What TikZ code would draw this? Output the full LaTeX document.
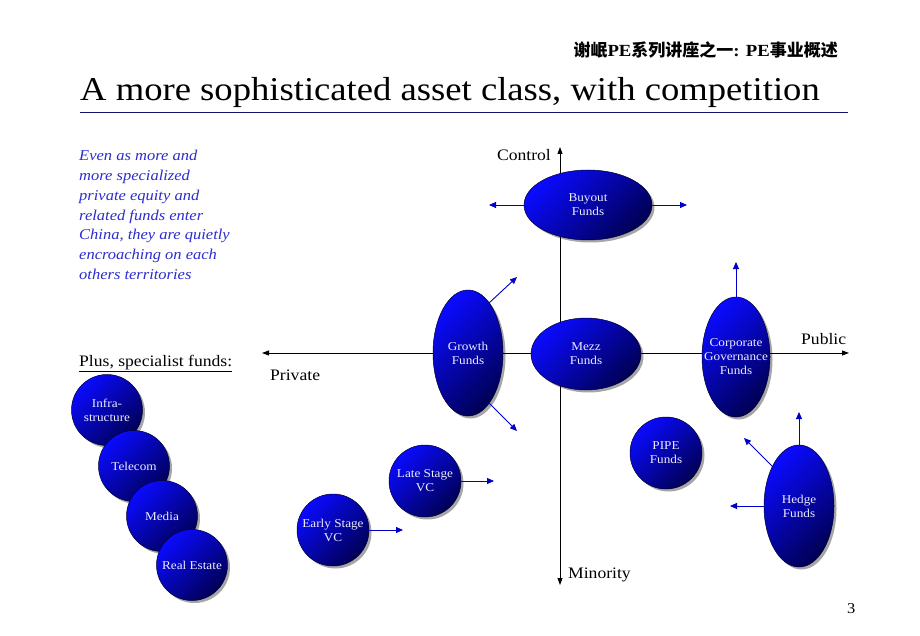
\documentclass[tikz,border=0pt]{standalone}
\usepackage{fontspec}
\setmainfont{Liberation Serif}[FakeStretch=1.1]
\newfontfamily\cjk{Noto Sans CJK SC}
\usetikzlibrary{arrows.meta,shapes.geometric,shadows}
\definecolor{navy}{RGB}{20,20,110}
\definecolor{txtblue}{RGB}{45,45,205}
\definecolor{arrblue}{RGB}{0,0,200}
\definecolor{fundtop}{RGB}{10,10,255}
\definecolor{fundbot}{RGB}{0,0,85}
\definecolor{fundtxt}{RGB}{236,236,255}
\begin{document}
\begin{tikzpicture}[x=1pt,y=-1pt,
  fund/.style={ellipse, inner sep=0pt, draw=fundbot!60!black, line width=0.5pt,
    top color=fundtop, bottom color=fundbot, shading angle=45,
    drop shadow={shadow xshift=2.5pt, shadow yshift=-2.5pt, fill=black, opacity=0.35}},
  lbl/.style={text=fundtxt, font=\fontsize{12}{14}\selectfont, align=center, inner sep=0pt},
  flow/.style={draw=arrblue, line width=0.9pt, -{Triangle[length=7pt,width=6pt]}},
  axis/.style={draw=black, line width=0.8pt, {Triangle[length=7pt,width=5pt]}-{Triangle[length=7pt,width=5pt]}},
  axlbl/.style={font=\fontsize{16}{18}\selectfont, inner sep=0pt}
]
\useasboundingbox (0,0) rectangle (920,636);
\fill[white] (0,0) rectangle (920,636);

% header and title
\node[anchor=base east, inner sep=0pt, font=\fontsize{17}{20}\selectfont\bfseries] (hdr) at (838,57)
  {{\cjk\bfseries 谢岷}PE{\cjk\bfseries 系列讲座之一}: PE{\cjk\bfseries 事业概述}};
\node[anchor=base west, inner sep=0pt, font=\fontsize{33.3}{38}\selectfont] (title) at (80,101)
  {A more sophisticated asset class, with competition};
\draw[navy, line width=1pt] (80,113) -- (848,113);

% side text
\node[anchor=north west, inner sep=0pt, align=left, text=txtblue,
  font=\fontsize{15}{19.8}\selectfont\itshape] (side) at (79,150)
  {Even as more and\\more specialized\\private equity and\\related funds enter\\China, they are quietly\\encroaching on each\\others territories};
\node[anchor=base west, inner sep=0pt, font=\fontsize{16}{18}\selectfont] (plus) at (79,366)
  {\underline{Plus, specialist funds:}};

% axes
\coordinate (ytop) at (560,147);
\coordinate (ybot) at (560,585);
\coordinate (xl) at (262,353);
\coordinate (xr) at (849,353);
\draw[axis] (ytop) -- (ybot);
\draw[axis] (xl) -- (xr);
\node[axlbl, anchor=base east] (control) at (551,161) {Control};
\node[axlbl, anchor=base west] (public) at (801,344) {Public};
\node[axlbl, anchor=base west] (private) at (270,380) {Private};
\node[axlbl, anchor=base west] (minority) at (568,578) {Minority};

% funds
\node[fund, minimum width=128pt, minimum height=70pt, label={[lbl]center:Buyout\\Funds}] (buyout) at (588,205) {};
\node[fund, minimum width=70pt, minimum height=126pt, label={[lbl]center:Growth\\Funds}] (growth) at (468,353) {};
\node[fund, minimum width=110pt, minimum height=72pt, label={[lbl]center:Mezz\\Funds}] (mezz) at (586,354) {};
\node[fund, minimum width=68pt, minimum height=120pt, label={[lbl]center:Corporate\\Governance\\Funds}] (corp) at (736,357) {};
\node[fund, minimum width=72pt, minimum height=72pt, label={[lbl]center:PIPE\\Funds}] (pipe) at (666,453) {};
\node[fund, minimum width=70pt, minimum height=122pt, label={[lbl]center:Hedge\\Funds}] (hedge) at (799,506) {};
\node[fund, minimum width=72pt, minimum height=72pt, label={[lbl]center:Late Stage\\VC}] (late) at (425,481) {};
\node[fund, minimum width=72pt, minimum height=72pt, label={[lbl]center:Early Stage\\VC}] (early) at (333,530) {};

\node[fund, minimum width=71pt, minimum height=71pt, label={[lbl]center:Infra-\\structure}] (infra) at (107,410) {};
\node[fund, minimum width=71pt, minimum height=71pt, label={[lbl]center:Telecom}] (telecom) at (134,466) {};
\node[fund, minimum width=71pt, minimum height=71pt, label={[lbl]center:Media}] (media) at (162,516) {};
\node[fund, minimum width=71pt, minimum height=71pt, label={[lbl]center:Real Estate}] (realestate) at (192,565) {};

% movement arrows
\coordinate (bl) at (489,205);
\coordinate (br) at (687,205);
\coordinate (gu) at (517,277);
\coordinate (gd) at (517,431);
\coordinate (cu) at (736,262);
\coordinate (hu) at (799,412);
\coordinate (hul) at (744,438);
\coordinate (hl) at (730,506);
\coordinate (lr) at (494,481);
\coordinate (er) at (403,530);
\draw[flow] (buyout.west) -- (bl);
\draw[flow] (buyout.east) -- (br);
\draw[flow] (growth.67) -- (gu);
\draw[flow] (growth.-67) -- (gd);
\draw[flow] (corp.north) -- (cu);
\draw[flow] (hedge.north) -- (hu);
\draw[flow] (hedge.124) -- (hul);
\draw[flow] (hedge.west) -- (hl);
\draw[flow] (late.east) -- (lr);
\draw[flow] (early.east) -- (er);

\node[anchor=base west, inner sep=0pt, font=\fontsize{15}{18}\selectfont] (pg) at (847,613) {3};
\end{tikzpicture}
\end{document}
